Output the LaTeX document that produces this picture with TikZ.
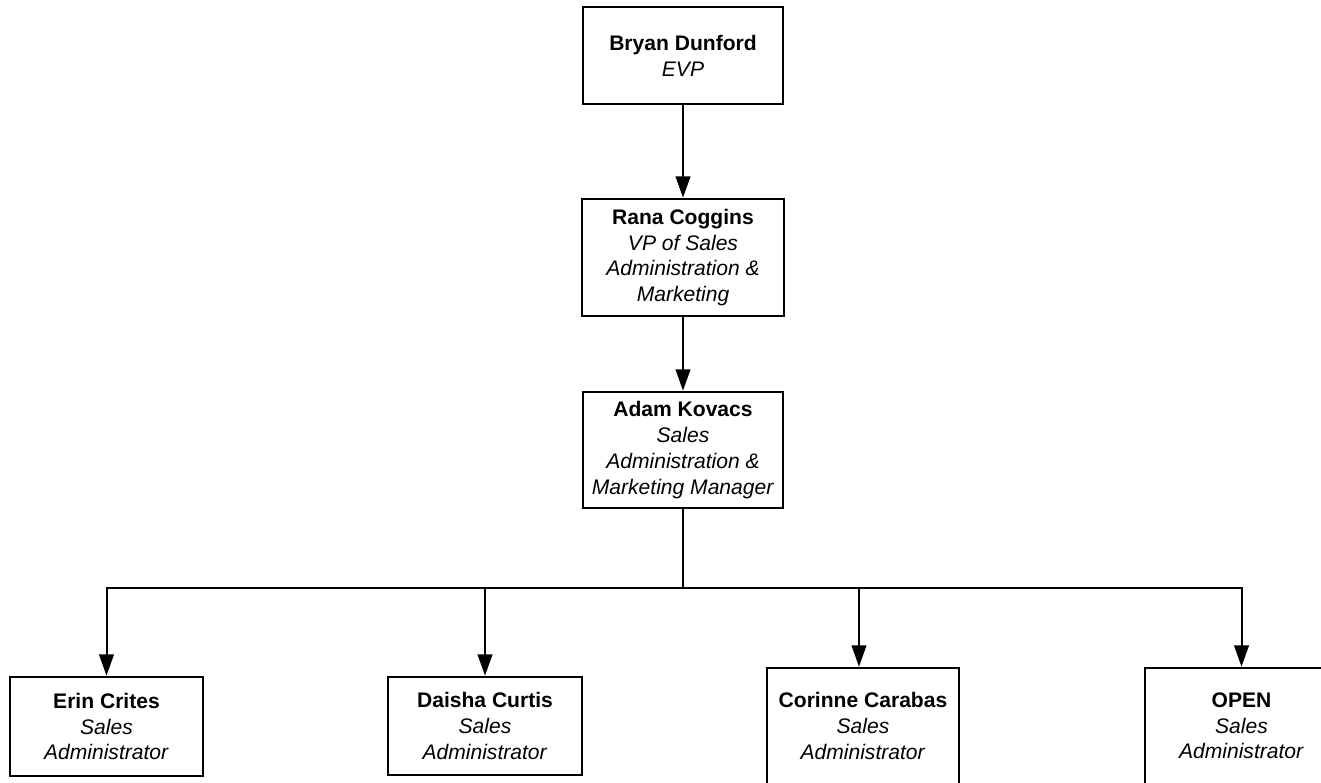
\documentclass[tikz,border=0pt]{standalone}
\usepackage{fontspec}
\setmainfont{Liberation Sans}
\usetikzlibrary{arrows.meta}

\begin{document}
\begin{tikzpicture}[x=0.75pt,y=-0.75pt,
		>={Triangle[length=16pt,width=11pt]},
		box/.style={draw,rectangle,line width=2pt,inner sep=0pt,align=center,
			font=\fontsize{15.8}{19.3}\selectfont},
		wire/.style={line width=1.5pt}
		]
	\useasboundingbox (0,0) rectangle (1321,782);
	\clip (0,0) rectangle (1321,782);

	% Vezetés
	% ----------------------
	\node[box, minimum width=150pt, minimum height=72.75pt] (bryan) at (683,55.5) {\textbf{Bryan Dunford}\\\textit{EVP}};

	\node[box, minimum width=151.5pt, minimum height=87.75pt] (rana) at (683,257.5) {\textbf{Rana Coggins}\\\textit{VP of Sales}\\\textit{Administration \&}\\\textit{Marketing}};

	\node[box, minimum width=150pt, minimum height=87pt] (adam) at (683,450) {\textbf{Adam Kovacs}\\\textit{Sales}\\\textit{Administration \&}\\\textit{Marketing Manager}};

	% Munkatársak
	% ----------------------
	\node[box, minimum width=144.75pt, minimum height=74.25pt] (erin) at (106.5,726.5) {\textbf{Erin Crites}\\\textit{Sales}\\\textit{Administrator}};
	\node[box, minimum width=145.5pt, minimum height=73.5pt] (daisha) at (485,726) {\textbf{Daisha Curtis}\\\textit{Sales}\\\textit{Administrator}};
	\node[box, minimum width=144pt, minimum height=87pt] (corinne) at (863,726) {\textbf{Corinne Carabas}\\\textit{Sales}\\\textit{Administrator}};
	\node[box, minimum width=144.75pt, minimum height=87pt] (open) at (1241.5,726) {\textbf{OPEN}\\\textit{Sales}\\\textit{Administrator}};

	% Kapcsolatok
	\draw[wire,->] (bryan) -- (rana);
	\draw[wire,->] (rana) -- (adam);

	% elosztó vonal
	\coordinate (bus) at (683,588);
	\draw[wire] (adam) -- (bus);
	\draw[wire,->] (bus) -| (erin.north);
	\draw[wire,->] (bus) -| (daisha.north);
	\draw[wire,->] (bus) -| ([xshift=-3pt]corinne.north);
	\draw[wire,->] (bus) -| (open.north);

\end{tikzpicture}
\end{document}
